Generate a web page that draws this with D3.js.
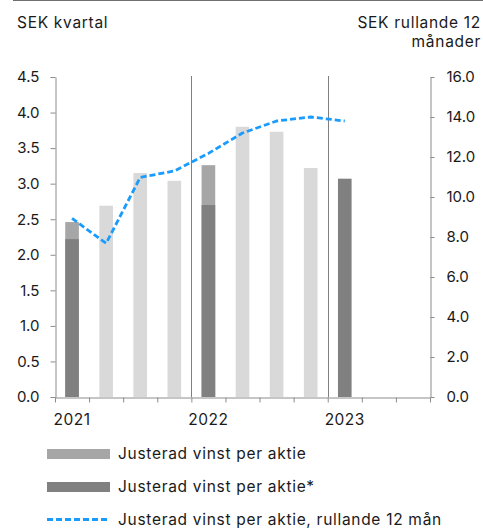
<!DOCTYPE html>
<html><head><meta charset="utf-8">
<script src="https://cdn.jsdelivr.net/npm/d3@7"></script>
<style>
html,body{margin:0;padding:0;background:#fff;}
svg{display:block;font-family:Inter,"Liberation Sans",sans-serif;}
.lbl{font-size:15.5px;letter-spacing:0.7px;}
</style></head>
<body><svg id="c" width="483" height="529"></svg>
<script>
const quarters = ["Q1 2021","Q2 2021","Q3 2021","Q4 2021","Q1 2022","Q2 2022","Q3 2022","Q4 2022","Q1 2023","Q2 2023","Q3 2023"];
const years = [{label:"2021", q:"Q1 2021"},{label:"2022", q:"Q1 2022"},{label:"2023", q:"Q1 2023"}];
const epsAdj = [2.46, 2.69, 3.15, 3.04, 3.26, 3.80, 3.73, 3.22, null, null, null];
const epsAdjStar = [2.22, null, null, null, 2.70, null, null, null, 3.07, null, null];
const epsRolling = [8.93, 7.68, 10.98, 11.3, 12.18, 13.2, 13.8, 14.0, 13.8, null, null];
const leftTicks = [0,0.5,1,1.5,2,2.5,3,3.5,4,4.5];
const rightTicks = [0,2,4,6,8,10,12,14,16];
const legendLabels = ["Justerad vinst per aktie","Justerad vinst per aktie*","Justerad vinst per aktie, rullande 12 mån"];

const svg = d3.select("#c");
const L = 55, R = 430, T = 77, B = 397;
const cMed = "#a6a6a6", cLight = "#d9d9d9", cDark = "#808080", cBlue = "#1a9cff", axisCol = "#8c8c8c", txt = "#1a1a1a";

const x = d3.scaleBand().domain(quarters).range([L, R]).paddingInner(0.6).paddingOuter(0.3);
const xb = d3.scaleLinear().domain([0, quarters.length]).range([L, R]);
const yL = d3.scaleLinear().domain([0, 4.5]).range([B, T]);
const yR = d3.scaleLinear().domain([0, 16]).range([B, T]);

// top border
svg.append("line").attr("x1",13).attr("x2",483).attr("y1",0.5).attr("y2",0.5).attr("stroke","#707070").attr("stroke-width",1);

// titles
svg.append("text").attr("class","lbl").attr("x",17).attr("y",28).attr("fill",txt).text("SEK kvartal");
svg.append("text").attr("class","lbl").attr("x",481).attr("y",28).attr("fill",txt).attr("text-anchor","end").text("SEK rullande 12");
svg.append("text").attr("class","lbl").attr("x",481).attr("y",47).attr("fill",txt).attr("text-anchor","end").text("månader");

// year separators
[4, 8].forEach(i => {
  svg.append("line").attr("x1",Math.round(xb(i))+0.5).attr("x2",Math.round(xb(i))+0.5)
    .attr("y1",76).attr("y2",B).attr("stroke","#7f7f7f").attr("stroke-width",1);
});

// bars
svg.append("g").selectAll("rect").data(quarters.map((q,i)=>({q,v:epsAdj[i],i})).filter(d=>d.v!=null))
  .join("rect").attr("x",d=>x(d.q)).attr("width",x.bandwidth())
  .attr("y",d=>yL(d.v)).attr("height",d=>yL(0)-yL(d.v))
  .attr("fill",d=>d.i%4===0?cMed:cLight);
svg.append("g").selectAll("rect").data(quarters.map((q,i)=>({q,v:epsAdjStar[i]})).filter(d=>d.v!=null))
  .join("rect").attr("x",d=>x(d.q)).attr("width",x.bandwidth())
  .attr("y",d=>yL(d.v)).attr("height",d=>yL(0)-yL(d.v))
  .attr("fill",cDark);

// line
const lineData = quarters.map((q,i)=>({q,v:epsRolling[i]})).filter(d=>d.v!=null);
svg.append("path").datum(lineData)
  .attr("d", d3.line().x(d=>x(d.q)+x.bandwidth()/2).y(d=>yR(d.v)))
  .attr("fill","none").attr("stroke",cBlue).attr("stroke-width",2.8).attr("stroke-dasharray","6,3").attr("stroke-linejoin","round");

// axes
const styleAxis = g => {
  g.selectAll("path,line").attr("stroke",axisCol).attr("stroke-width",1);
  g.selectAll("text").attr("fill",txt).attr("font-size",15).attr("font-family","Inter,'Liberation Sans',sans-serif");
};
svg.append("g").attr("transform",`translate(${L+0.5},0)`)
  .call(d3.axisLeft(yL).tickValues(leftTicks).tickFormat(d3.format(".1f")).tickSize(5).tickSizeOuter(0).tickPadding(11))
  .call(styleAxis);
svg.append("g").attr("transform",`translate(${R+0.5},0)`)
  .call(d3.axisRight(yR).tickValues(rightTicks).tickFormat(d3.format(".1f")).tickSize(4).tickSizeOuter(0).tickPadding(12))
  .call(styleAxis);
svg.append("g").attr("transform",`translate(0,${B+0.5})`)
  .call(d3.axisBottom(xb).tickValues(d3.range(quarters.length+1)).tickFormat("").tickSize(5).tickSizeOuter(0))
  .call(styleAxis);

// year labels
svg.append("g").selectAll("text").data(years).join("text")
  .attr("x",d=>x(d.q)+x.bandwidth()/2).attr("y",425).attr("text-anchor","middle")
  .attr("font-size",15.5).attr("letter-spacing","0.5px").attr("fill",txt).text(d=>d.label);

// legend
const lg = svg.append("g");
const rows = [459, 492, 525];
lg.append("rect").attr("x",47).attr("y",449).attr("width",63).attr("height",10).attr("fill",cMed);
lg.append("rect").attr("x",47).attr("y",482).attr("width",63).attr("height",10).attr("fill",cDark);
lg.append("line").attr("x1",47).attr("x2",110).attr("y1",519.5).attr("y2",519.5).attr("stroke",cBlue).attr("stroke-width",2.8).attr("stroke-dasharray","6,3");
lg.selectAll("text").data(legendLabels).join("text").attr("class","lbl")
  .attr("x",118).attr("y",(d,i)=>rows[i]).attr("fill",txt).text(d=>d);
</script></body></html>
